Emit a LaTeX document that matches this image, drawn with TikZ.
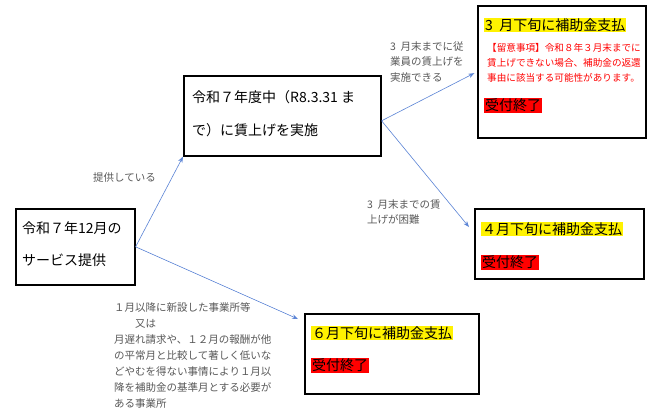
\documentclass[tikz,border=0pt]{standalone}
\usepackage{fontspec}
\setmainfont{Noto Sans CJK JP}
\usetikzlibrary{arrows.meta,shadows}
\definecolor{arrowblue}{HTML}{5B84D6}
\definecolor{labelgray}{HTML}{595959}
\newcommand{\hsp}{\hspace{0.45em}}
\tikzset{
  box/.style={draw=black, line width=1.6pt, fill=white, anchor=north west, inner sep=0pt,
    drop shadow={shadow xshift=1.2pt, shadow yshift=-1.2pt, fill=black!35, opacity=1}},
  arr/.style={draw=arrowblue, line width=0.6pt, -{Stealth[length=6pt,width=4.5pt]}},
  big/.style={font=\fontsize{14}{16}\selectfont, inner sep=1pt, anchor=west},
  hiy/.style={big, fill=yellow},
  hir/.style={big, fill=red},
  lbl/.style={font=\fontsize{10.5}{15.5}\selectfont, text=labelgray, align=left, anchor=north west, inner sep=0pt},
  note/.style={font=\fontsize{9.6}{15}\selectfont, text=red, align=left, anchor=north west, inner sep=0pt},
}
\begin{document}
\begin{tikzpicture}[x=1pt,y=-1pt]
\useasboundingbox[fill=white] (0,0) rectangle (650,416);

% boxes
\node[box, minimum width=119pt, minimum height=76pt] (A) at (15,208) {};
\node[box, minimum width=197pt, minimum height=80pt] (B) at (183,75) {};
\node[box, minimum width=168pt, minimum height=132pt] (C) at (477,5) {};
\node[box, minimum width=169pt, minimum height=70pt] (D) at (474,208) {};
\node[box, minimum width=174pt, minimum height=80pt] (E) at (304,313) {};

% box texts
\node[big] (a1) at (21,228) {令和７年12月の};
\node[big] (a2) at (21,260) {サービス提供};
\node[big] (b1) at (191,97) {令和７年度中（R8.3.31 ま};
\node[big] (b2) at (191,130) {で）に賃上げを実施};

\node[hiy] (c1) at (484,25) {3\hsp 月下旬に補助金支払};
\node[note] (c2) at (487,43) {【留意事項】令和８年３月末までに\\賃上げできない場合、補助金の返還\\事由に該当する可能性があります。};
\node[hir] (c3) at (484,105) {受付終了};

\node[hiy] (d1) at (481,229) {４月下旬に補助金支払};
\node[hir] (d2) at (481,262) {受付終了};

\node[hiy] (e1) at (311,333) {６月下旬に補助金支払};
\node[hir] (e2) at (311,365) {受付終了};

% connectors
\coordinate (dEnd) at (469,227);
\coordinate (eEnd) at (298,319);
\draw[arr] (A.east) -- (B.south west);
\draw[arr, shorten >=3pt] ([yshift=-5pt]B.east) -- (C.west);
\draw[arr] ([yshift=-5pt]B.east) -- (dEnd);
\draw[arr] (A.east) -- (eEnd);

% connector labels
\node[lbl] (l1) at (93,172) {提供している};
\node[lbl] (l2) at (390,41) {3\hsp 月末までに従\\業員の賃上げを\\実施できる};
\node[lbl] (l3) at (367,199) {3\hsp 月末までの賃\\上げが困難};
\node[lbl, font=\fontsize{10.5}{16}\selectfont] (l4) at (114,302) {１月以降に新設した事業所等\\\hspace{2em}又は\\月遅れ請求や、１２月の報酬が他\\の平常月と比較して著しく低いな\\どやむを得ない事情により１月以\\降を補助金の基準月とする必要が\\ある事業所};
\end{tikzpicture}
\end{document}
